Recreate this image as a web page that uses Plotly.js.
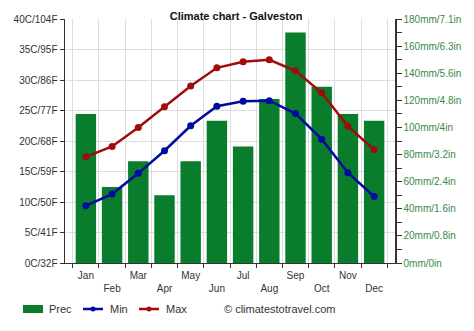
<!DOCTYPE html>
<html><head><meta charset="utf-8">
<script src="https://cdn.plot.ly/plotly-3.0.1.min.js"></script>
<style>html,body{margin:0;padding:0;background:#fff}#c{width:474px;height:331px}</style>
</head><body><div id="c"></div>
<script>
const months = ["Jan","Feb","Mar","Apr","May","Jun","Jul","Aug","Sep","Oct","Nov","Dec"];
const prec = [110, 56, 75, 50, 75, 105, 86, 121, 170, 130, 110, 105];
const tmin = [9.4, 11.3, 14.7, 18.4, 22.5, 25.7, 26.5, 26.6, 24.5, 20.3, 14.8, 10.9];
const tmax = [17.4, 19.1, 22.2, 25.6, 29.0, 32.0, 33.0, 33.3, 31.5, 27.9, 22.4, 18.6];
const leftTicks = [0,5,10,15,20,25,30,35,40];
const leftLabels = ["0C/32F","5C/41F","10C/50F","15C/59F","20C/68F","25C/77F","30C/86F","35C/95F","40C/104F"];
const rightTicks = [0,20,40,60,80,100,120,140,160,180];
const rightLabels = ["0mm/0in","20mm/0.8in","40mm/1.6in","60mm/2.4in","80mm/3.2in","100mm/4in","120mm/4.8in","140mm/5.6in","160mm/6.3in","180mm/7.1in"];
const tickText = months.map((m,i)=> i%2===0 ? m : "<br>"+m);

const green = "rgb(10,125,45)", blue = "rgb(0,10,160)", red = "rgb(160,12,12)";
const data = [
 {type:"bar", x:months, y:prec, name:"Prec", yaxis:"y", marker:{color:green}},
 {type:"scatter", mode:"lines+markers", x:months, y:tmin, name:"Min", yaxis:"y2", line:{color:blue,width:2.5}, marker:{size:7,color:blue}},
 {type:"scatter", mode:"lines+markers", x:months, y:tmax, name:"Max", yaxis:"y2", line:{color:red,width:2.5}, marker:{size:7,color:red}}
];
// legend helpers (paper coords: px -> (px-65)/330, py -> (263-py)/244)
const px = v => (v-65)/330, py = v => (263-v)/244;
const legY = py(309);
const shapes = [
 {type:"rect", xref:"paper", yref:"paper", x0:px(23), x1:px(43), y0:py(305), y1:py(313), fillcolor:green, line:{width:0}},
 {type:"line", xref:"paper", yref:"paper", x0:px(83), x1:px(103), y0:legY, y1:legY, line:{color:blue,width:2.5}},
 {type:"circle", xref:"paper", yref:"paper", x0:px(90.5), x1:px(95.5), y0:py(306.5), y1:py(311.5), fillcolor:blue, line:{width:0}},
 {type:"line", xref:"paper", yref:"paper", x0:px(139), x1:px(159), y0:legY, y1:legY, line:{color:red,width:2.5}},
 {type:"circle", xref:"paper", yref:"paper", x0:px(146.5), x1:px(151.5), y0:py(306.5), y1:py(311.5), fillcolor:red, line:{width:0}}
];
const legFont = {size:11, color:"#333"};
const annotations = [
 {text:"Prec", xref:"paper", yref:"paper", x:px(47), y:legY, xanchor:"left", yanchor:"middle", showarrow:false, font:legFont},
 {text:"Min", xref:"paper", yref:"paper", x:px(108), y:legY, xanchor:"left", yanchor:"middle", showarrow:false, font:legFont},
 {text:"Max", xref:"paper", yref:"paper", x:px(164), y:legY, xanchor:"left", yanchor:"middle", showarrow:false, font:legFont},
 {text:"© climatestotravel.com", xref:"paper", yref:"paper", x:px(222), y:legY, xanchor:"left", yanchor:"middle", showarrow:false, font:legFont}
];
const layout = {
 width:474, height:331,
 margin:{l:65, r:79, t:19, b:68},
 paper_bgcolor:"#fff", plot_bgcolor:"#fff",
 font:{family:"Liberation Sans, Arial, sans-serif", size:10, color:"#333"},
 title:{text:"<b>Climate chart - Galveston</b>", font:{size:11, color:"#111"}, x:0.498, xanchor:"center", yref:"container", y:0.952, yanchor:"middle"},
 bargap:0.22,
 showlegend:false,
 shapes:shapes, annotations:annotations,
 xaxis:{type:"category", tickson:"boundaries", ticks:"outside", ticklen:4, tickcolor:"#333", tickangle:0, ticklabelstandoff:3,
   tickvals:months, ticktext:tickText, showgrid:true, gridcolor:"#ddd", showline:true, linecolor:"#333", linewidth:1, tickfont:{size:10}, fixedrange:true},
 yaxis:{range:[0,180], side:"right", tickvals:rightTicks, ticktext:rightLabels, ticks:"outside", ticklen:5, tickcolor:"#333",
   minor:{dtick:10, tick0:0, ticks:"outside", ticklen:5, tickcolor:"#333"},
   showgrid:false, showline:true, linecolor:"#333", linewidth:1.5, zeroline:false, tickfont:{size:10,color:"#3a8a4a"}},
 yaxis2:{range:[0,40], overlaying:"y", side:"left", tickvals:leftTicks, ticktext:leftLabels, ticks:"outside", ticklen:4, tickcolor:"#333",
   showgrid:true, gridcolor:"#ddd", showline:true, linecolor:"#333", linewidth:1.5, zeroline:false, tickfont:{size:10,color:"#333"}}
};
Plotly.newPlot("c", data, layout, {displayModeBar:false, staticPlot:true});
</script></body></html>
